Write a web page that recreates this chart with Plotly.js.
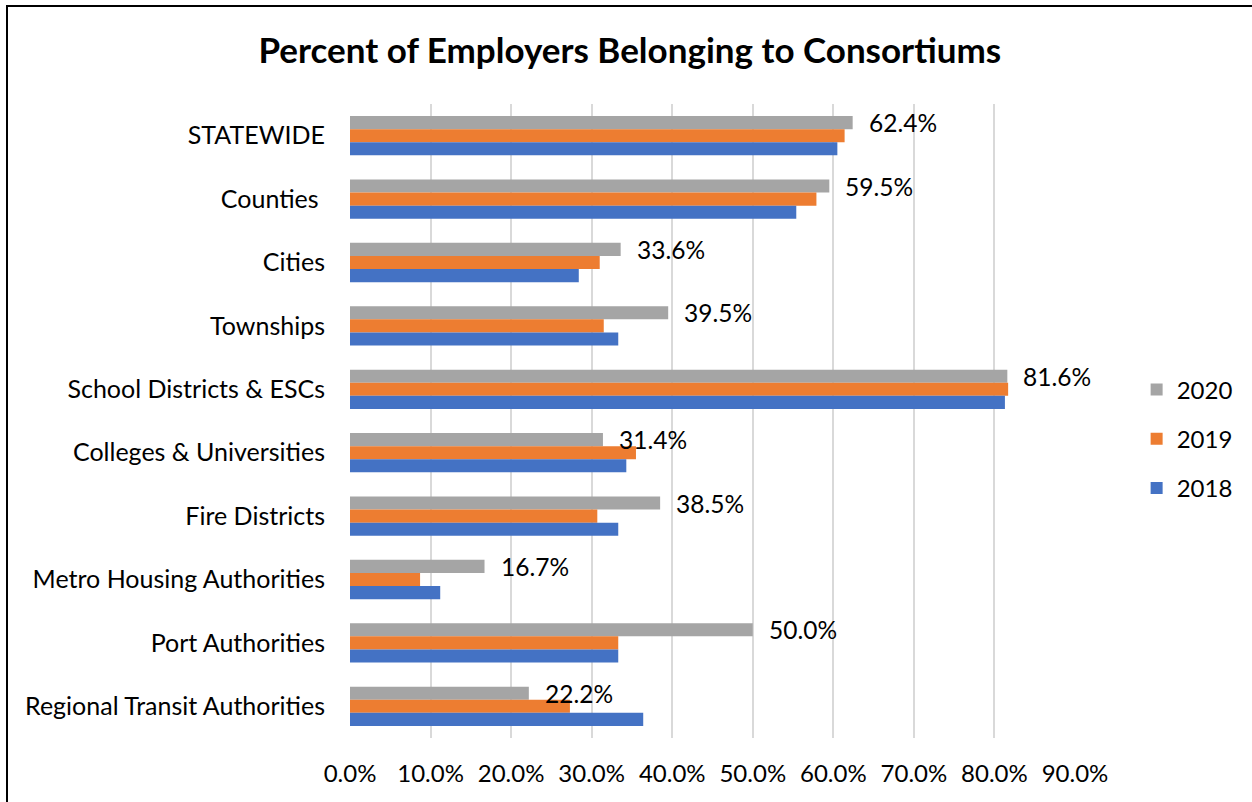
<!DOCTYPE html>
<html>
<head>
<meta charset="utf-8">
<script src="https://cdn.plot.ly/plotly-3.0.1.min.js"></script>
<style>
  html, body { margin: 0; padding: 0; background: #fff; overflow: hidden; width: 1252px; height: 802px; }
  #chart { position: absolute; left: 0; top: 0; width: 1252px; height: 802px; }
  #frame { position: absolute; left: 6px; top: 5px; width: 1246px; height: 797px; border-top: 2px solid #000; border-left: 2px solid #000; pointer-events: none; box-sizing: border-box; }
</style>
</head>
<body>
<div id="chart"></div>
<div id="frame"></div>
<script>
const categories = [
  "STATEWIDE",
  "Counties\u00a0",
  "Cities",
  "Townships",
  "School Districts & ESCs",
  "Colleges & Universities",
  "Fire Districts",
  "Metro Housing Authorities",
  "Port Authorities",
  "Regional Transit Authorities"
];
const values2020 = [62.4, 59.5, 33.6, 39.5, 81.6, 31.4, 38.5, 16.7, 50.0, 22.2];
const values2019 = [61.4, 57.9, 31.0, 31.5, 81.7, 35.5, 30.7, 8.7, 33.3, 27.3];
const values2018 = [60.5, 55.4, 28.4, 33.3, 81.3, 34.3, 33.3, 11.2, 33.3, 36.4];
const labels2020 = ["62.4%", "59.5%", "33.6%", "39.5%", "81.6%", "31.4%", "38.5%", "16.7%", "50.0%", "22.2%"];
const seriesNames = ["2020", "2019", "2018"];
const xTickVals = [0, 10, 20, 30, 40, 50, 60, 70, 80, 90];
const xTickText = ["0.0%", "10.0%", "20.0%", "30.0%", "40.0%", "50.0%", "60.0%", "70.0%", "80.0%", "90.0%"];

const FONT = "Lato, 'Open Sans', sans-serif";
const colors = ["#A5A5A5", "#ED7D31", "#4472C4"];
const seriesValues = [values2020, values2019, values2018];

const traces = seriesNames.map((name, i) => ({
  type: "bar",
  orientation: "h",
  name: name,
  y: categories,
  x: seriesValues[i],
  marker: { color: colors[i], line: { width: 0 } },
  legendgroup: "g" + i,
  hoverinfo: "x+y+name"
}));

const annotations = categories.map((c, i) => ({
  x: values2020[i],
  y: c,
  xref: "x",
  yref: "y",
  text: labels2020[i],
  showarrow: false,
  xanchor: "left",
  yanchor: "middle",
  xshift: 14,
  yshift: 13,
  font: { family: FONT, size: 24.5, color: "#000" }
}));

const layout = {
  width: 1252,
  height: 802,
  paper_bgcolor: "rgba(0,0,0,0)",
  plot_bgcolor: "rgba(0,0,0,0)",
  margin: { l: 350, r: 177, t: 104, b: 64 },
  barmode: "group",
  bargap: 0.38,
  bargroupgap: 0,
  title: {
    text: "<b>Percent of Employers Belonging to Consortiums</b>",
    font: { family: FONT, size: 35, color: "#000" },
    x: 0.503, xanchor: "center", xref: "container",
    y: 0.937, yanchor: "middle", yref: "container"
  },
  xaxis: {
    range: [0, 90],
    tickvals: xTickVals,
    ticktext: xTickText,
    showgrid: true,
    gridcolor: "#D9D9D9",
    gridwidth: 2,
    zeroline: false,
    showline: false,
    ticks: "",
    ticklabelstandoff: 19,
    tickfont: { family: FONT, size: 24, color: "#000" },
    fixedrange: true
  },
  yaxis: {
    autorange: "reversed",
    showgrid: false,
    zeroline: false,
    showline: false,
    ticks: "",
    ticklabelstandoff: 24,
    tickfont: { family: FONT, size: 25, color: "#000" },
    fixedrange: true
  },
  legend: {
    x: 1.085, xanchor: "left",
    y: 0.4716, yanchor: "middle",
    xref: "paper", yref: "paper",
    font: { family: FONT, size: 24, color: "#000" },
    tracegroupgap: 15,
    itemwidth: 30,
    bgcolor: "rgba(0,0,0,0)"
  },
  annotations: annotations,
  showlegend: true
};

Plotly.newPlot("chart", traces, layout, { displayModeBar: false, staticPlot: true });
</script>
</body>
</html>
